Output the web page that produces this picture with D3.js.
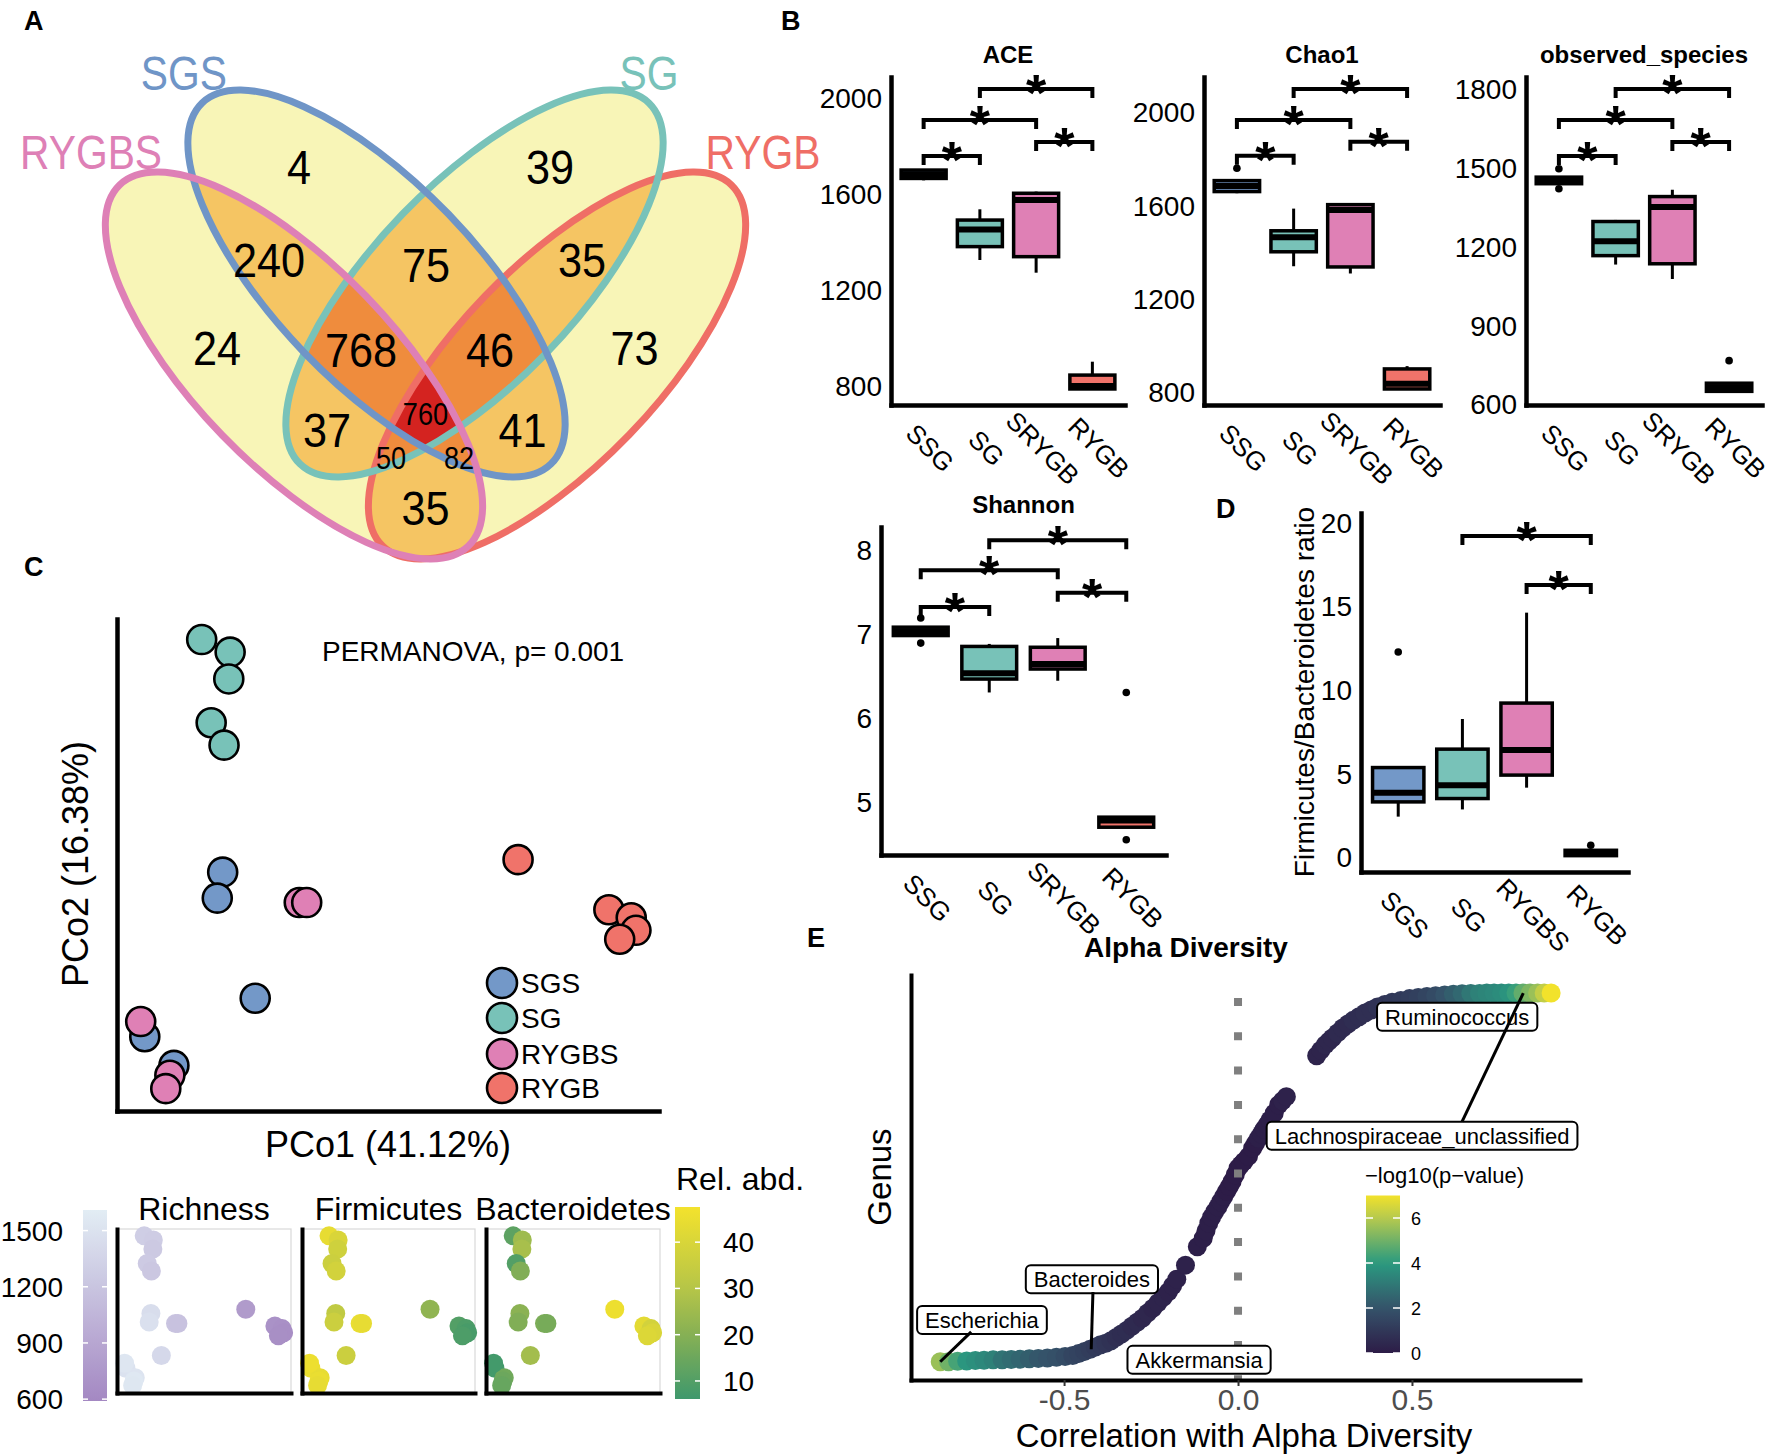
<!DOCTYPE html>
<html><head><meta charset="utf-8">
<script src="https://cdn.jsdelivr.net/npm/d3@7/dist/d3.min.js"></script>
<style>
body{margin:0;background:#fff;}
</style></head>
<body><svg id="fig" width="1772" height="1456" xmlns="http://www.w3.org/2000/svg"></svg>
<script>
// ================= DATA =================
// Panel A (Venn)
const vennSets=["RYGBS","SGS","SG","RYGB"];
const vennCounts=[4,39,240,75,35,24,768,46,73,37,760,41,50,82,35];
// Panel B / D groups
const groupsB=["SSG","SG","SRYGB","RYGB"];
const groupsD=["SGS","SG","RYGBS","RYGB"];
const groupColors=["#7398c8","#78c2b8","#df80b5","#f0736a"];
// box stats: [lowWhisker, q1, median, q3, highWhisker]
const aceStats=[[1660,1668,1685,1703,1703],[1327,1383,1455,1494,1539],[1274,1341,1578,1606,1613],[788,788,800,846,902]];
const aceOut=[[],[],[],[]];
const chaoStats=[[1656,1663,1687,1710,1710],[1343,1405,1467,1495,1590],[1312,1340,1584,1607,1607],[813,817,839,903,915]];
const chaoOut=[[1763],[],[],[]];
const obsStats=[[1443,1443,1455,1468,1468],[1135,1169,1224,1299,1305],[1080,1138,1354,1394,1420],[652,652,667,683,683]];
const obsOut=[[1500,1424],[],[],[769]];
const shanStats=[[6.99,6.99,7.04,7.09,7.09],[6.31,6.47,6.54,6.86,6.89],[6.45,6.59,6.65,6.85,6.96],[4.70,4.70,4.78,4.82,4.82]];
const shanOut=[[7.2,6.9],[],[],[6.31,4.55]];
const fbStats=[[2.47,3.35,3.9,5.4,5.4],[2.9,3.55,4.35,6.5,8.3],[4.2,4.95,6.45,9.25,14.65],[0.14,0.14,0.3,0.46,0.46]];
const fbOut=[[12.3],[],[],[0.76]];
// significance brackets: [groupFrom, groupTo, yValue]
const aceSig=[[0,1,1762],[0,2,1912],[2,3,1820],[1,3,2042]];
const chaoSig=[[0,1,1816],[0,2,1970],[2,3,1876],[1,3,2103]];
const obsSig=[[0,1,1549],[0,2,1686],[2,3,1602],[1,3,1804]];
const shanSig=[[0,1,7.33],[0,2,7.77],[2,3,7.50],[1,3,8.13]];
const fbSig=[[1,3,19.22],[2,3,16.3]];
const aceTicks=[800,1200,1600,2000], chaoTicks=[800,1200,1600,2000], obsTicks=[600,900,1200,1500,1800];
const shanTicks=[5,6,7,8], fbTicks=[0,5,10,15,20];
// Panel C (PCoA) by group SGS, SG, RYGBS, RYGB
const pcoGroups=["SGS","SG","RYGBS","RYGB"];
const pco1=[[-0.144,-0.152,-0.096,-0.259,-0.216],[-0.175,-0.133,-0.135,-0.161,-0.142],[-0.031,-0.020,-0.265,-0.222,-0.228],[0.292,0.426,0.459,0.466,0.442]];
const pco2=[[0.017,-0.012,-0.124,-0.167,-0.199],[0.277,0.263,0.233,0.184,0.159],[-0.017,-0.017,-0.150,-0.210,-0.225],[0.031,-0.025,-0.034,-0.048,-0.058]];
const richness=[[1450,1480,1400,1500,1520],[1300,1280,1250,1260,1230],[1200,1180,1540,1560,1550],[780,690,670,650,660]];
const firmicutes=[[33,36,36,45,44],[44,40,37,36,38],[45,44,46,45,44],[22,10,9,8,9]];
const bacteroidetes=[[21,19,26,7,16],[12,25,27,10,19],[18,17,7,15,14],[46,43,38,40,41]];
const richTicks=[600,900,1200,1500], abdTicks=[10,20,30,40];
const miniTitles=["Richness","Firmicutes","Bacteroidetes"];
// Panel E
const eCorr=[-0.856,-0.832,-0.806,-0.780,-0.755,-0.730,-0.704,-0.678,-0.652,-0.626,-0.600,-0.574,-0.548,-0.522,-0.497,
-0.475,-0.458,-0.441,-0.425,-0.410,-0.395,-0.380,-0.365,-0.350,-0.335,-0.320,-0.305,-0.290,-0.275,-0.260,-0.245,-0.230,-0.215,-0.200,-0.188,-0.176,
-0.151,-0.117,
-0.100,-0.092,-0.084,-0.076,-0.067,-0.058,-0.050,-0.041,-0.033,-0.025,-0.017,-0.008,0.000,0.008,0.017,0.030,0.042,0.050,0.059,0.067,0.075,0.084,0.092,0.104,0.117,0.128,0.139,
0.226,0.238,0.251,0.261,0.271,0.286,0.301,0.316,0.331,0.348,0.365,0.383,0.401,0.422,0.443,0.468,0.493,0.518,0.543,0.568,0.594,0.619,0.644,0.669,0.694,0.715,0.736,0.757,0.778,0.799,0.819,0.840,0.861,0.880,0.900];
const eRank=[0,0,0.1,0.2,0.3,0.4,0.5,0.5,0.6,0.7,0.8,0.9,1.0,1.2,1.4,
1.7,2.2,2.8,3.4,4.0,4.6,5.0,5.7,6.6,7.5,8.5,9.6,10.7,11.8,13.2,14.5,16.0,17.5,19.0,20.6,22.4,
26.2,31.2,
33.5,35.5,37.6,39.2,40.7,42.0,43.4,44.8,46.2,47.5,48.9,50.7,52.5,53.4,54.3,55.7,57.9,59.2,60.6,61.8,63.1,64.3,65.6,67.4,69.7,70.8,71.9,
83.0,84.5,86.0,86.9,87.8,89.2,90.5,91.6,92.6,93.6,94.6,95.4,96.2,96.9,97.5,98.0,98.5,98.8,99.1,99.3,99.5,99.7,99.8,99.9,99.9,100,100,100,100,100,100,100,100,100,100];
const eLogP=[5.6,5.0,4.4,3.9,3.7,3.5,3.3,2.9,2.7,2.5,2.3,2.1,2.0,1.9,1.7,
1.5,1.4,1.3,1.2,1.1,1.0,0.9,0.8,0.7,0.6,0.6,0.5,0.5,0.4,0.4,0.3,0.3,0.3,0.2,0.2,0.2,
0.2,0.1,
0.1,0.1,0.1,0.1,0.1,0.1,0.1,0.1,0,0,0,0,0,0,0,0,0,0,0.1,0.1,0.1,0.1,0.1,0.1,0.1,0.2,0.2,
0.3,0.3,0.4,0.4,0.4,0.5,0.5,0.5,0.6,0.6,0.7,0.7,0.8,0.9,1.0,1.1,1.2,1.3,1.5,1.7,2.0,2.3,2.6,3.0,3.3,3.4,3.5,3.6,3.8,4.2,4.8,5.2,5.6,6.2,7.0];
const eLabels=["Ruminococcus","Lachnospiraceae_unclassified","Akkermansia","Bacteroides","Escherichia"];
const eLabelCorr=[0.630,0.529,-0.112,-0.420,-0.736];
const eLabelRank=[93.6,61.3,0.5,22.4,11.3];
// segments [labelIdx, fromCorr, fromRank, toCorr, toRank]
const eSegments=[[1,0.644,65.1,0.82,100],[3,-0.417,18.9,-0.422,3.4],[4,-0.767,8.1,-0.856,0]];
const eLegendTicks=[0,2,4,6];

// ================= DRAW =================
const svg=d3.select("#fig");
const defs=svg.append("defs");
const SANS='"Liberation Sans", Arial, Helvetica, sans-serif';
function txt(g,x,y,s,size,o={}){
  const t=g.append("text").attr("x",x).attr("y",y).text(s)
    .style("font-size",size+"px").style("font-family",o.font||SANS).attr("fill",o.fill||"#000");
  if(o.anchor) t.attr("text-anchor",o.anchor);
  if(o.weight) t.style("font-weight",o.weight);
  if(o.transform) t.attr("transform",o.transform);
  if(o.squeeze){ const L=t.node().getComputedTextLength(); t.attr("textLength",L*o.squeeze).attr("lengthAdjust","spacingAndGlyphs"); }
  return t;
}
function gradient(id,colorScale,dom){
  const lg=defs.append("linearGradient").attr("id",id).attr("x1",0).attr("y1",1).attr("x2",0).attr("y2",0);
  d3.range(0,1.0001,0.05).forEach(t=>lg.append("stop").attr("offset",t).attr("stop-color",colorScale(dom[0]+t*(dom[1]-dom[0]))));
}

// Panel letters
const panelLetters=["A","B","C","D","E"];
const letterPos=[[24,30],[781,30],[24,576],[1216,518],[807,947]];
panelLetters.forEach((l,i)=>txt(svg,letterPos[i][0],letterPos[i][1],l,27,{weight:"bold"}));

// ---------- Panel A: Venn ----------
const vx=d3.scaleLinear().domain([0,1]).range([25.5,825.5]);
const vy=d3.scaleLinear().domain([0,1]).range([40,840]);
const vlen=d3.scaleLinear().domain([0,1]).range([0,800]);
const vennEll=[{cx:0.3356,cy:0.4069,rot:46},{cx:0.43875,cy:0.30438,rot:46},{cx:0.56125,cy:0.30438,rot:-46},{cx:0.6644,cy:0.4069,rot:-46}];
const vennA=0.3138, vennB=0.125;
const vennSetColors=["#de80b6","#6f95c7","#78c2b9","#ef6e66"];
const vennRegionXY=[[0.3419,0.1588],[0.6556,0.1588],[0.3044,0.275],[0.5006,0.2813],[0.6956,0.275],[0.2394,0.385],[0.4194,0.3875],[0.5806,0.3875],[0.7613,0.385],[0.3769,0.4875],[0.5,0.4663],[0.6214,0.4875],[0.4569,0.5213],[0.5419,0.5213],[0.5,0.585]];
const vennSmall=[0,0,0,0,0,0,0,0,0,0,1,0,1,1,0];
const vennLabelXY=[[0.0819,0.14],[0.198,0.041],[0.7794,0.041],[0.9219,0.14]];
function setEll(sel,e){
  sel.attr("cx",vx(e.cx)).attr("cy",vy(e.cy)).attr("rx",vlen(vennA)).attr("ry",vlen(vennB))
     .attr("transform",`rotate(${e.rot} ${vx(e.cx)} ${vy(e.cy)})`);
}
vennEll.forEach((e,i)=>defs.append("clipPath").attr("id","vc"+i).append("ellipse").call(setEll,e));
const layerFill=["#f8f5b7","#f5c563","#ef8c3d","#d42320"];
function subsets(n,k){const res=[];(function rec(s,cur){if(cur.length===k){res.push(cur.slice());return;}for(let i=s;i<n;i++){cur.push(i);rec(i+1,cur);cur.pop();}})(0,[]);return res;}
const gV=svg.append("g");
for(let k=1;k<=4;k++){
  subsets(4,k).forEach(ss=>{
    let g=gV;
    for(let j=1;j<ss.length;j++) g=g.append("g").attr("clip-path",`url(#vc${ss[j]})`);
    g.append("ellipse").call(setEll,vennEll[ss[0]]).attr("fill",layerFill[k-1]);
  });
}
[3,2,1,0].forEach(i=>gV.append("ellipse").call(setEll,vennEll[i]).attr("fill","none").attr("stroke",vennSetColors[i]).attr("stroke-width",7));
vennCounts.forEach((c,i)=>{
  const sz=vennSmall[i]?32:48;
  txt(gV,vx(vennRegionXY[i][0]),vy(vennRegionXY[i][1])+0.36*sz,String(c),sz,{anchor:"middle",squeeze:vennSmall[i]?0.85:0.9});
});
vennSets.forEach((s,i)=>txt(gV,vx(vennLabelXY[i][0]),vy(vennLabelXY[i][1])+17,s,48,{anchor:"middle",fill:vennSetColors[i],squeeze:0.85}));

// ---------- Box panels ----------
function boxPanel(o){
  const g=svg.append("g");
  const x=d3.scalePoint().domain(o.cats).range([o.x0,o.x1]).padding(0.58);
  const y=d3.scaleLinear().domain(o.domain).range([o.yb,o.yt]);
  const bw=x.step()*0.8;
  o.stats.forEach((s,i)=>{
    const cx=x(o.cats[i]);
    g.append("line").attr("x1",cx).attr("x2",cx).attr("y1",y(s[0])).attr("y2",y(s[4])).attr("stroke","#000").attr("stroke-width",3);
    g.append("rect").attr("x",cx-bw/2).attr("width",bw).attr("y",y(s[3])).attr("height",Math.max(1,y(s[1])-y(s[3])))
      .attr("fill",groupColors[i]).attr("stroke","#000").attr("stroke-width",3.5);
    g.append("line").attr("x1",cx-bw/2).attr("x2",cx+bw/2).attr("y1",y(s[2])).attr("y2",y(s[2])).attr("stroke","#000").attr("stroke-width",6);
    o.out[i].forEach(v=>g.append("circle").attr("cx",cx).attr("cy",y(v)).attr("r",3.8).attr("fill","#000"));
  });
  // axes
  const ya=g.append("g").attr("transform",`translate(${o.x0},0)`)
    .call(d3.axisLeft(y).tickValues(o.ticks).tickSize(0).tickSizeOuter(0).tickPadding(9).tickFormat(d3.format("d")));
  ya.select(".domain").attr("stroke","#000").attr("stroke-width",4.5).attr("stroke-linecap","square");
  ya.selectAll("text").style("font-size","28px").style("font-family",SANS).attr("fill","#000");
  const xa=g.append("g").attr("transform",`translate(0,${o.yb})`)
    .call(d3.axisBottom(x).tickSize(0).tickSizeOuter(0));
  xa.select(".domain").attr("stroke","#000").attr("stroke-width",4.5).attr("stroke-linecap","square");
  xa.selectAll("text").attr("x",0).attr("y",0).attr("dy","0.35em").attr("text-anchor","middle")
    .attr("transform","translate(6,43) rotate(45)").style("font-size","26px").style("font-family",SANS).attr("fill","#000");
  // brackets
  o.sig.forEach(b=>{
    const xa1=x(o.cats[b[0]]), xa2=x(o.cats[b[1]]), yy=y(b[2]);
    g.append("path").attr("d",`M${xa1},${yy+9}V${yy}H${xa2}V${yy+9}`).attr("fill","none").attr("stroke","#000").attr("stroke-width",4);
    txt(g,(xa1+xa2)/2,yy+22,"*",52,{anchor:"middle",weight:"bold"});
  });
  if(o.title) txt(g,(o.x0+o.x1)/2,o.titleY,o.title,24,{anchor:"middle",weight:"bold"});
  return {x,y,g};
}
boxPanel({cats:groupsB,x0:891,x1:1125,yt:77,yb:405,domain:[721,2092],ticks:aceTicks,stats:aceStats,out:aceOut,sig:aceSig,title:"ACE",titleY:63});
boxPanel({cats:groupsB,x0:1204,x1:1440,yt:77,yb:405,domain:[748.4,2154],ticks:chaoTicks,stats:chaoStats,out:chaoOut,sig:chaoSig,title:"Chao1",titleY:63});
boxPanel({cats:groupsB,x0:1526,x1:1762,yt:77,yb:405,domain:[600,1849.5],ticks:obsTicks,stats:obsStats,out:obsOut,sig:obsSig,title:"observed_species",titleY:63});
boxPanel({cats:groupsB,x0:881,x1:1166,yt:527,yb:855,domain:[4.368,8.287],ticks:shanTicks,stats:shanStats,out:shanOut,sig:shanSig,title:"Shannon",titleY:513});
boxPanel({cats:groupsD,x0:1361,x1:1628,yt:513,yb:872,domain:[-0.836,20.6],ticks:fbTicks,stats:fbStats,out:fbOut,sig:fbSig});
txt(svg,1314,692,"Firmicutes/Bacteroidetes ratio",28,{anchor:"middle",transform:"rotate(-90 1314 692)"});

// ---------- Panel C: PCoA ----------
const gC=svg.append("g");
const cxs=d3.scaleLinear().domain([-0.30,0.50]).range([117,659]);
const cys=d3.scaleLinear().domain([-0.25,0.30]).range([1111,619]);
pcoGroups.forEach((grp,gi)=>{
  pco1[gi].forEach((v,j)=>gC.append("circle").attr("cx",cxs(v)).attr("cy",cys(pco2[gi][j])).attr("r",14.5)
    .attr("fill",groupColors[gi]).attr("stroke","#000").attr("stroke-width",2.6));
});
const cax=gC.append("g").attr("transform","translate(0,1111)").call(d3.axisBottom(cxs).tickValues([]).tickSizeOuter(0));
const cay=gC.append("g").attr("transform","translate(117,0)").call(d3.axisLeft(cys).tickValues([]).tickSizeOuter(0));
[cax,cay].forEach(a=>a.select(".domain").attr("stroke","#000").attr("stroke-width",4.5).attr("stroke-linecap","square"));
txt(gC,322,661,"PERMANOVA, p= 0.001",28);
txt(gC,388,1157,"PCo1 (41.12%)",36,{anchor:"middle"});
txt(gC,88,864,"PCo2 (16.38%)",36,{anchor:"middle",transform:"rotate(-90 88 864)"});
const legY=[983,1018,1054,1088];
pcoGroups.forEach((grp,gi)=>{
  gC.append("circle").attr("cx",502).attr("cy",legY[gi]).attr("r",15).attr("fill",groupColors[gi]).attr("stroke","#000").attr("stroke-width",2.6);
  txt(gC,521,legY[gi]+10,grp,28);
});

// ---------- Mini panels ----------
const richColor=d3.scaleLinear().domain([590,1610]).range(["#a488c2","#e2edf4"]);
const abdColor=d3.scaleLinear().domain([6,20,30,47.6]).range(["#3e986d","#86b054","#b6c548","#f3e22d"]);
const miniX=[[117,291],[302,475],[486,660]];
const miniVals=[richness,firmicutes,bacteroidetes];
const miniCol=[richColor,abdColor,abdColor];
miniTitles.forEach((t,k)=>{
  const g=svg.append("g");
  const mx=d3.scaleLinear().domain([-0.30,0.50]).range(miniX[k]);
  const my=d3.scaleLinear().domain([-0.25,0.30]).range([1393,1229]);
  g.append("rect").attr("x",miniX[k][0]).attr("y",1229).attr("width",miniX[k][1]-miniX[k][0]).attr("height",164)
    .attr("fill","#fff").attr("stroke","#d9d9d9").attr("stroke-width",1.2);
  pcoGroups.forEach((grp,gi)=>pco1[gi].forEach((v,j)=>g.append("circle").attr("cx",mx(v)).attr("cy",my(pco2[gi][j])).attr("r",9.5)
    .attr("fill",miniCol[k](miniVals[k][gi][j]))));
  const ax=g.append("g").attr("transform","translate(0,1393)").call(d3.axisBottom(mx).tickValues([]).tickSizeOuter(0));
  const ay=g.append("g").attr("transform",`translate(${miniX[k][0]},0)`).call(d3.axisLeft(my).tickValues([]).tickSizeOuter(0));
  [ax,ay].forEach(a=>a.select(".domain").attr("stroke","#000").attr("stroke-width",4).attr("stroke-linecap","square"));
  txt(g,(miniX[k][0]+miniX[k][1])/2,1220,t,32,{anchor:"middle"});
});
// richness colorbar
gradient("gRich",richColor,[590,1610]);
const ry=d3.scaleLinear().domain([590,1610]).range([1401,1210]);
svg.append("rect").attr("x",83).attr("y",ry(1610)).attr("width",24).attr("height",ry(590)-ry(1610)).attr("fill","url(#gRich)");
richTicks.forEach(v=>{
  svg.append("line").attr("x1",83).attr("x2",88).attr("y1",ry(v)).attr("y2",ry(v)).attr("stroke","#fff").attr("stroke-width",1.5);
  svg.append("line").attr("x1",102).attr("x2",107).attr("y1",ry(v)).attr("y2",ry(v)).attr("stroke","#fff").attr("stroke-width",1.5);
  txt(svg,63,ry(v)+10,String(v),28,{anchor:"end"});
});
// abundance colorbar
gradient("gAbd",abdColor,[6.1,47.6]);
const aby=d3.scaleLinear().domain([6.1,47.6]).range([1399,1207]);
svg.append("rect").attr("x",675).attr("y",aby(47.6)).attr("width",25).attr("height",aby(6.1)-aby(47.6)).attr("fill","url(#gAbd)");
abdTicks.forEach(v=>{
  svg.append("line").attr("x1",675).attr("x2",680).attr("y1",aby(v)).attr("y2",aby(v)).attr("stroke","#fff").attr("stroke-width",1.5);
  svg.append("line").attr("x1",695).attr("x2",700).attr("y1",aby(v)).attr("y2",aby(v)).attr("stroke","#fff").attr("stroke-width",1.5);
  txt(svg,723,aby(v)+10,String(v),28);
});
txt(svg,676,1190,"Rel. abd.",32);

// ---------- Panel E ----------
const gE=svg.append("g");
const ex=d3.scaleLinear().domain([-0.94,0.983]).range([911,1580]);
const ey=d3.scaleLinear().domain([-4.96,104.9]).range([1380,975]);
const eCol=d3.scaleLinear().domain([0,2,4,6,7]).range(["#2d1c47","#35536a","#2a9a80","#b6c94e","#f2e22b"]);
gE.selectAll("circle.pt").data(d3.range(eCorr.length)).join("circle").attr("class","pt")
  .attr("cx",i=>ex(eCorr[i])).attr("cy",i=>ey(eRank[i])).attr("r",9.5).attr("fill",i=>eCol(eLogP[i]));
gE.append("line").attr("x1",ex(0)).attr("x2",ex(0)).attr("y1",998).attr("y2",1380)
  .attr("stroke","#7f7f7f").attr("stroke-width",8).attr("stroke-dasharray","8 26.3");
const fmt1=d3.format(".1f");
const exa=gE.append("g").attr("transform","translate(0,1380)")
  .call(d3.axisBottom(ex).tickValues([-0.5,0,0.5]).tickFormat(d=>fmt1(d).replace("\u2212","-")).tickSize(6).tickSizeOuter(0).tickPadding(3));
exa.select(".domain").attr("stroke","#000").attr("stroke-width",4).attr("stroke-linecap","square");
exa.selectAll(".tick line").attr("stroke","#333").attr("stroke-width",2);
exa.selectAll("text").style("font-size","30px").style("font-family",SANS).attr("fill","#4d4d4d");
const eya=gE.append("g").attr("transform","translate(911,0)").call(d3.axisLeft(ey).tickValues([]).tickSizeOuter(0));
eya.select(".domain").attr("stroke","#000").attr("stroke-width",4).attr("stroke-linecap","square");
txt(gE,1186,957,"Alpha Diversity",28,{anchor:"middle",weight:"bold"});
txt(gE,1244,1447,"Correlation with Alpha Diversity",33,{anchor:"middle"});
txt(gE,891,1177,"Genus",33,{anchor:"middle",transform:"rotate(-90 891 1177)"});
// label boxes
eLabels.forEach((l,i)=>{
  const cx=ex(eLabelCorr[i]), cy=ey(eLabelRank[i]);
  const gl=gE.append("g");
  const r=gl.append("rect");
  const t=txt(gl,cx,cy+8,l,22,{anchor:"middle"});
  const w=t.node().getComputedTextLength()+16;
  r.attr("x",cx-w/2).attr("y",cy-14).attr("width",w).attr("height",28).attr("rx",5).attr("fill","#fff").attr("stroke","#000").attr("stroke-width",2);
});
eSegments.forEach(s=>gE.append("line").attr("x1",ex(s[1])).attr("y1",ey(s[2])).attr("x2",ex(s[3])).attr("y2",ey(s[4])).attr("stroke","#000").attr("stroke-width",3));
// colour legend
gradient("gE",eCol,[0,7]);
const ly=d3.scaleLinear().domain([0,7]).range([1353,1195.5]);
gE.append("rect").attr("x",1366).attr("y",ly(7)).attr("width",34).attr("height",ly(0)-ly(7)).attr("fill","url(#gE)");
eLegendTicks.forEach(v=>{
  gE.append("line").attr("x1",1366).attr("x2",1373).attr("y1",ly(v)).attr("y2",ly(v)).attr("stroke","#fff").attr("stroke-width",1.5);
  gE.append("line").attr("x1",1393).attr("x2",1400).attr("y1",ly(v)).attr("y2",ly(v)).attr("stroke","#fff").attr("stroke-width",1.5);
  txt(gE,1411,ly(v)+7,String(v),18);
});
txt(gE,1365,1183,"\u2212log10(p\u2212value)",22);
</script></body></html>
